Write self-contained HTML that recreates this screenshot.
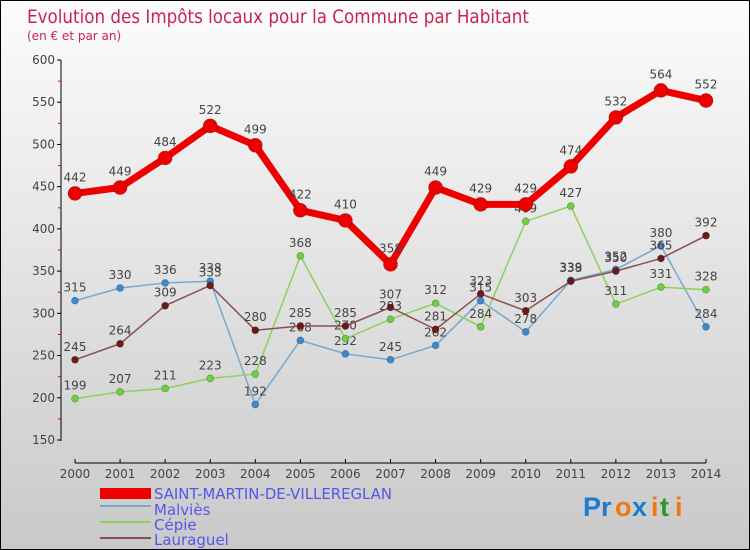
<!DOCTYPE html>
<html><head><meta charset="utf-8"><style>
body{margin:0;width:750px;height:550px;overflow:hidden;font-family:"DejaVu Sans","Liberation Sans",sans-serif}
#c{position:absolute;left:0;top:0;width:748px;height:548px;border:1px solid #000;background:linear-gradient(#fcfcfc,#c9c9c9)}
</style></head><body>
<div id="c"></div>
<svg id="s" width="750" height="550" style="position:absolute;left:0;top:0" font-family="DejaVu Sans, Liberation Sans, sans-serif">
<text x="27" y="23" font-size="19" fill="#c8254e" textLength="502" lengthAdjust="spacingAndGlyphs">Evolution des Impôts locaux pour la Commune par Habitant</text>
<text x="27" y="40" font-size="12" fill="#c8254e">(en € et par an)</text>
<g id="axes"></g><g id="series"></g>
<g>
<rect x="100" y="488" width="51" height="11" fill="#e00"/>
<line x1="100" y1="506" x2="151" y2="506" stroke="#78a8d0" stroke-width="2"/>
<line x1="100" y1="522" x2="151" y2="522" stroke="#8ed060" stroke-width="2"/>
<line x1="100" y1="538" x2="151" y2="538" stroke="#8a5050" stroke-width="2"/>
<g font-size="15" fill="#5555ee">
<text x="154" y="499" textLength="238" lengthAdjust="spacingAndGlyphs">SAINT-MARTIN-DE-VILLEREGLAN</text>
<text x="154" y="515">Malviès</text>
<text x="154" y="530">Cépie</text>
<text x="154" y="545">Lauraguel</text>
</g></g>
<g font-size="27" font-weight="bold" font-family="Liberation Sans, sans-serif">
<text x="583" y="516" fill="#1a7bd0">Pr</text><text x="615" y="516" fill="#f07a10">o</text><text x="632" y="516" fill="#1a7bd0">x</text><text x="651" y="516" fill="#f07a10">i</text><text x="660" y="516" fill="#2a9a30">t</text><text x="675" y="516" fill="#f07a10">i</text>
</g>
</svg>
<script>
const years=["2000","2001","2002","2003","2004","2005","2006","2007","2008","2009","2010","2011","2012","2013","2014"];
const yTicks=[150,200,250,300,350,400,450,500,550,600];
const smv=[442,449,484,522,499,422,410,358,449,429,429,474,532,564,552];
const malvies=[315,330,336,338,192,268,252,245,262,315,278,339,352,380,284];
const cepie=[199,207,211,223,228,368,270,293,312,284,409,427,311,331,328];
const lauraguel=[245,264,309,333,280,285,285,307,281,323,303,338,350,365,392];
const NS="http://www.w3.org/2000/svg";
const xS=i=>75+i*(706-75)/14;
const yS=v=>60+(600-v)*380/450;
function mk(t,a,p){const e=document.createElementNS(NS,t);for(const k in a)e.setAttribute(k,a[k]);p.appendChild(e);return e;}
const ax=document.getElementById('axes');
let l=mk('line',{x1:61,y1:60,x2:61,y2:441,stroke:'#000'},ax);


yTicks.forEach(v=>{const y=yS(v);mk('line',{x1:57,y1:y,x2:61,y2:y,stroke:'#000'},ax);
 if(v<600)mk('line',{x1:58,y1:y-21.1,x2:61,y2:y-21.1,stroke:'#e00'},ax);
 const t=mk('text',{x:55,y:y+4,'font-size':12,fill:'#444','text-anchor':'end'},ax);t.textContent=v;
 
 });
l=mk('line',{x1:75,y1:463,x2:706,y2:463,stroke:'#000'},ax);


years.forEach((yr,i)=>{const x=xS(i);mk('line',{x1:x,y1:459,x2:x,y2:463,stroke:'#000'},ax);
 const t=mk('text',{x:x,y:478,'font-size':12,fill:'#444','text-anchor':'middle'},ax);t.textContent=yr;
 
 });
const sg=document.getElementById('series');
function draw(name,vals,col,w,r,fill,lblOff){
 const g=mk('g',{},sg);
 
 
 mk('polyline',{points:vals.map((v,i)=>xS(i)+','+yS(v)).join(' '),fill:'none',stroke:col,'stroke-width':w,'stroke-linejoin':'round'},g);
 vals.forEach((v,i)=>{const c=mk('circle',{cx:xS(i),cy:yS(v),r:r,fill:fill,stroke:'rgba(0,0,0,0.3)','stroke-width':0.7},g);
  
  
  const t=mk('text',{x:xS(i),y:yS(v)+lblOff,'font-size':12,fill:'#444','text-anchor':'middle'},g);t.textContent=v;
  
  });
}
draw('malvies',malvies,'#78a8d0',1.5,3.5,'#3a8ad0',-9);
draw('cepie',cepie,'#8ed060',1.5,3.5,'#6cd040',-9);
draw('lauraguel',lauraguel,'#8a5050',1.5,3.5,'#6a1a1a',-9);
draw('saint-martin',smv,'#e00',7,7,'#e00',-12);
</script>
</body></html>
